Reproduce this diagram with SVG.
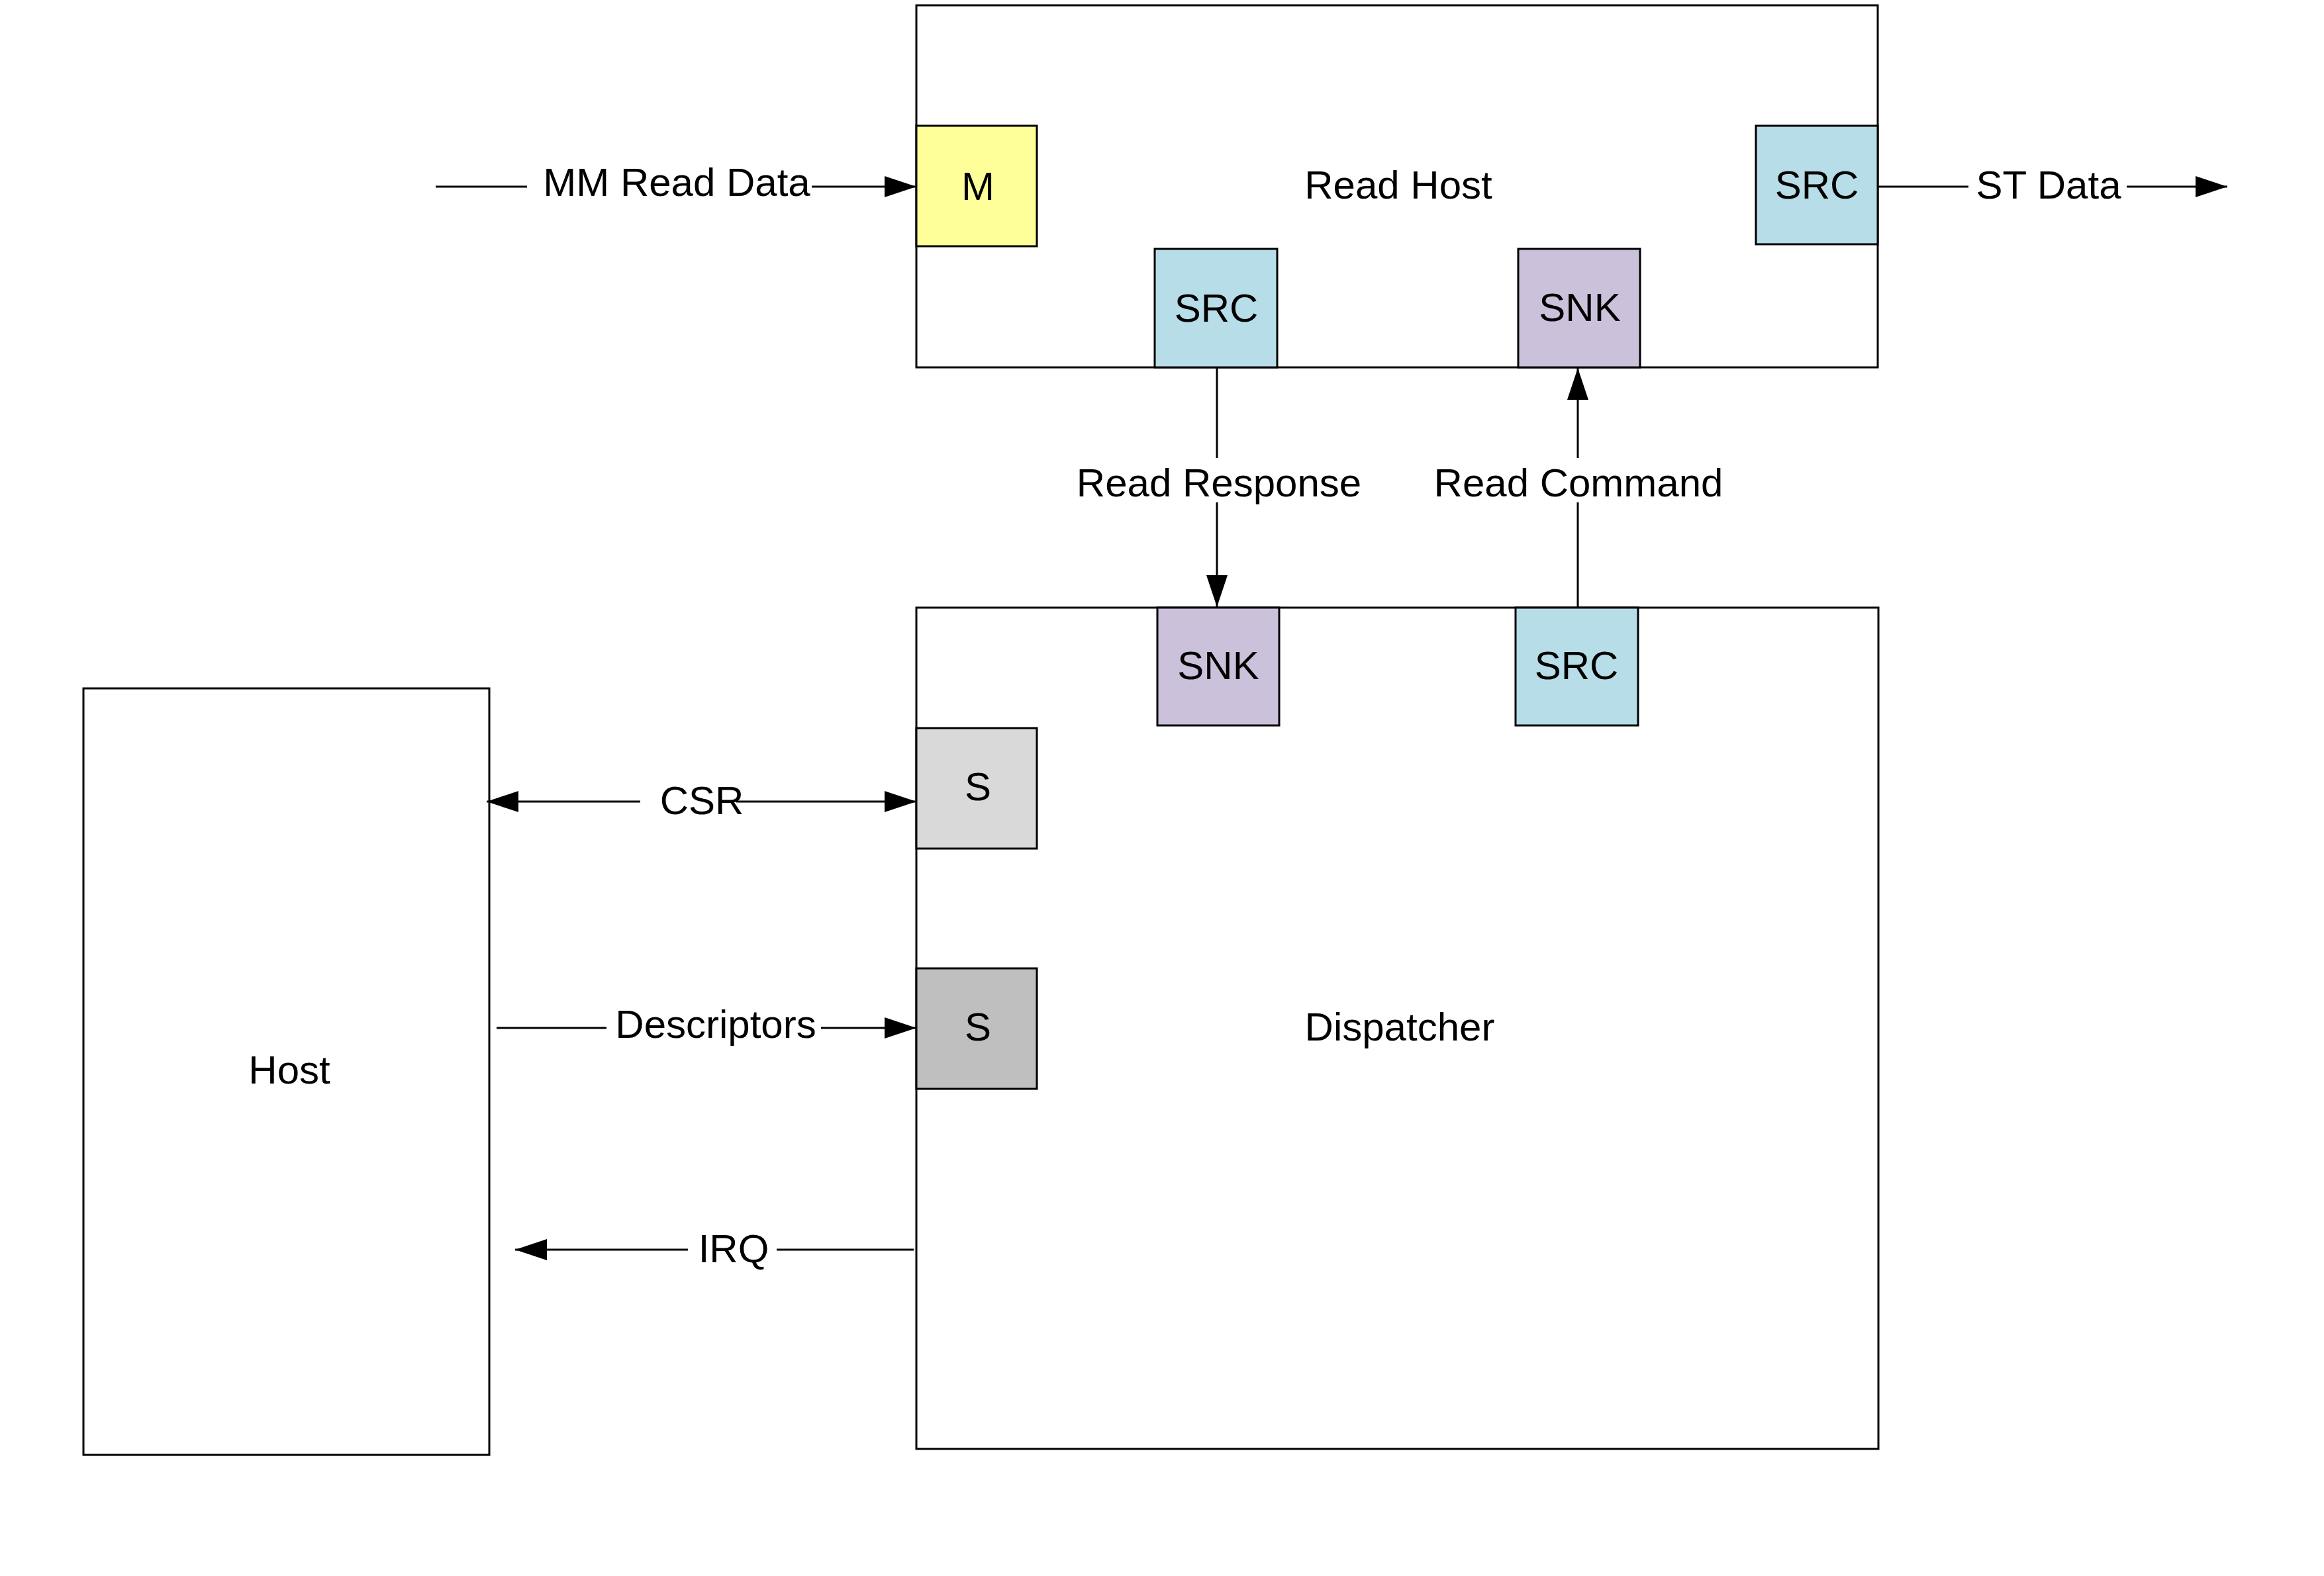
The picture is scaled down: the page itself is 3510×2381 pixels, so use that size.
<svg xmlns="http://www.w3.org/2000/svg" width="3510" height="2381" viewBox="0 0 3510 2381">
<style>
.box{fill:#FFFFFF;stroke:#000;stroke-width:3}
.port{stroke:#000;stroke-width:3}
.m{fill:#FFFF99}
.src{fill:#B7DDE8}
.snk{fill:#CCC1DA}
.s1{fill:#D9D9D9}
.s2{fill:#BFBFBF}
text{font-family:"Liberation Sans",Arial,sans-serif;font-size:60px;fill:#000;text-anchor:middle}
.conn line{stroke:#000;stroke-width:3;fill:none}
</style>
<defs>
<marker id="arr" markerUnits="userSpaceOnUse" markerWidth="48" markerHeight="32" refX="48" refY="16" orient="auto">
<path d="M0,0 L48,16 L0,32 z" fill="#000"/>
</marker>
</defs>
<rect width="3510" height="2381" fill="#FFFFFF"/>

<g id="read-host">
<rect class="box" x="1384" y="8" width="1452" height="547"/>
<text x="2112" y="300">Read Host</text>
</g>
<g id="rh-m">
<rect class="port m" x="1384" y="190" width="182" height="182"/>
<text x="1477" y="302">M</text>
</g>
<g id="rh-src-bottom">
<rect class="port src" x="1744" y="376" width="185" height="179"/>
<text x="1837" y="486">SRC</text>
</g>
<g id="rh-snk">
<rect class="port snk" x="2293" y="376" width="184" height="179"/>
<text x="2386" y="485">SNK</text>
</g>
<g id="rh-src-right">
<rect class="port src" x="2652" y="190" width="184" height="179"/>
<text x="2744" y="300">SRC</text>
</g>

<g id="dispatcher">
<rect class="box" x="1384" y="918" width="1453" height="1271"/>
<text x="2114" y="1572">Dispatcher</text>
</g>
<g id="d-snk">
<rect class="port snk" x="1748" y="918" width="184" height="178"/>
<text x="1840" y="1026">SNK</text>
</g>
<g id="d-src">
<rect class="port src" x="2289" y="918" width="185" height="178"/>
<text x="2381" y="1026">SRC</text>
</g>
<g id="d-s-csr">
<rect class="port s1" x="1384" y="1100" width="182" height="182"/>
<text x="1477" y="1209">S</text>
</g>
<g id="d-s-desc">
<rect class="port s2" x="1384" y="1463" width="182" height="182"/>
<text x="1477" y="1572">S</text>
</g>

<g id="host">
<rect class="box" x="126" y="1040" width="613" height="1158"/>
<text x="437" y="1637">Host</text>
</g>

<g id="connectors" class="conn">
<line x1="658" y1="282" x2="796" y2="282"/>
<line x1="1226" y1="282" x2="1384" y2="282" marker-end="url(#arr)"/>
<text x="1022" y="296">MM Read Data</text>

<line x1="2836" y1="282" x2="2973" y2="282"/>
<line x1="3212" y1="282" x2="3364" y2="282" marker-end="url(#arr)"/>
<text x="3094" y="300">ST Data</text>

<line x1="1838" y1="555" x2="1838" y2="692"/>
<line x1="1838" y1="759" x2="1838" y2="917" marker-end="url(#arr)"/>
<text x="1841" y="750">Read Response</text>

<line x1="2383" y1="918" x2="2383" y2="759"/>
<line x1="2383" y1="692" x2="2383" y2="556" marker-end="url(#arr)"/>
<text x="2384" y="750">Read Command</text>

<line x1="967" y1="1211" x2="735" y2="1211" marker-end="url(#arr)"/>
<line x1="1112" y1="1211" x2="1384" y2="1211" marker-end="url(#arr)"/>
<text x="1060" y="1230">CSR</text>

<line x1="750" y1="1553" x2="916" y2="1553"/>
<line x1="1240" y1="1553" x2="1384" y2="1553" marker-end="url(#arr)"/>
<text x="1081" y="1568">Descriptors</text>

<line x1="1380" y1="1888" x2="1173" y2="1888"/>
<line x1="1039" y1="1888" x2="778" y2="1888" marker-end="url(#arr)"/>
<text x="1108" y="1907">IRQ</text>
</g>
</svg>
